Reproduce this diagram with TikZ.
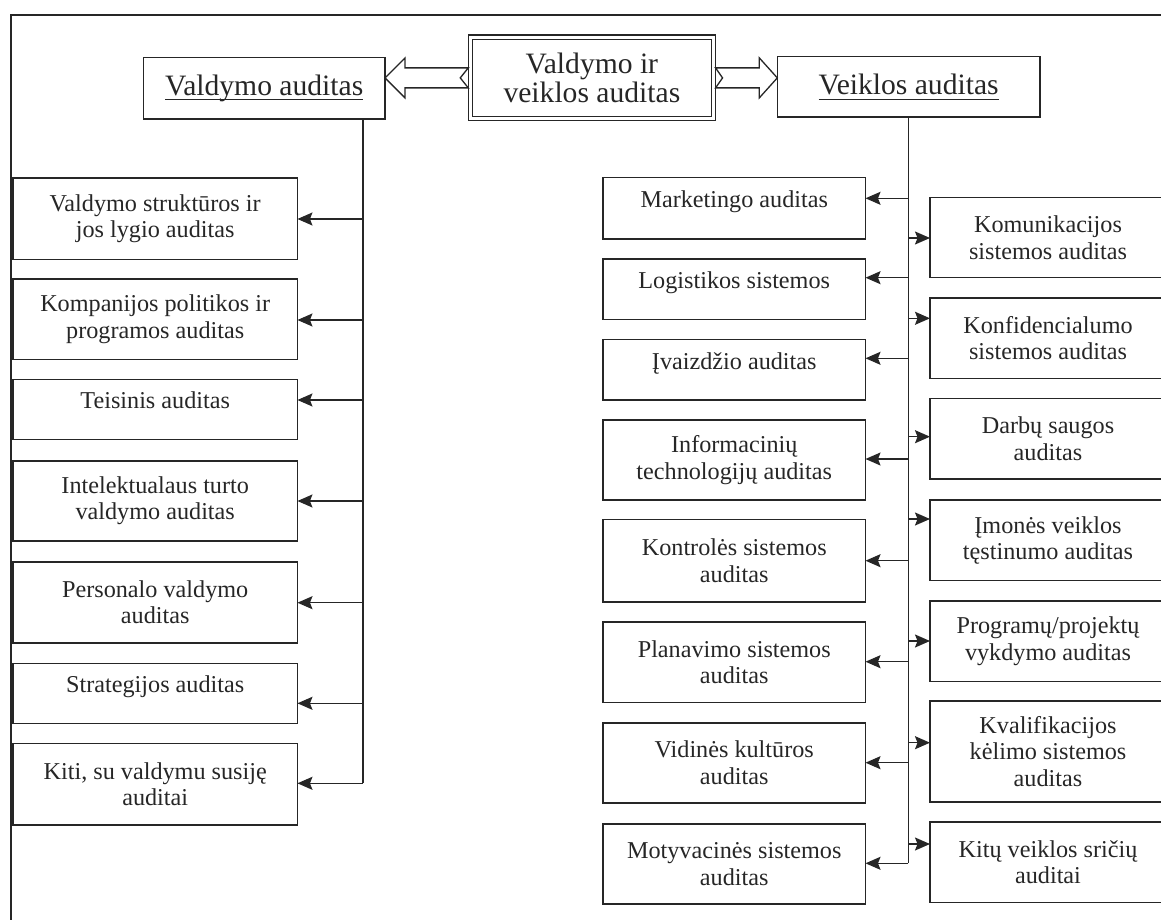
\documentclass[tikz,border=0pt]{standalone}
\usepackage{fontspec}
\setmainfont{Liberation Serif}
\usetikzlibrary{arrows.meta,calc}
\definecolor{ink}{RGB}{38,38,38}
\newcommand\titlefont{\fontsize{29.6}{29.5}\selectfont}
\newcommand\boxfont{\fontsize{24.2}{26.5}\selectfont}
% underline set at a fixed depth below the baseline
\newcommand\headline[1]{\setbox0\hbox{#1}\rlap{\rule[-5pt]{\wd0}{1.2pt}}\box0}
\tikzset{
  box/.style={draw=ink, line width=1.6pt, inner sep=0pt, outer sep=0pt,
    align=center, font=\boxfont, text=ink},
  titlebox/.style={box, font=\titlefont},
  upper/.style={text height=17pt, text depth=18pt},
  conn/.style={draw=ink, line width=1.5pt,
    -{Stealth[length=15pt,width=13pt,inset=2.5pt]}},
  trunk/.style={draw=ink, line width=1.5pt},
  hollow/.style={draw=ink, line width=1.3pt, line join=miter},
  frame/.style={draw=ink, line width=2pt},
}
\begin{document}
\begin{tikzpicture}[x=1pt, y=-1pt]
\useasboundingbox (0,0) rectangle (1161,920);
\clip (0,0) rectangle (1161,920);

% outer frame (runs off the page on the right and below)
\draw[frame] (10.5,950) -- (10.5,15) -- (1190,15);

% top row
\node[titlebox, minimum width=241.7pt, minimum height=61.7pt] (vald) at (264.2,88.2)
  {\headline{Valdymo auditas}};
\node[titlebox, double, double distance=3pt, line width=1.3pt,
  minimum width=242.9pt, minimum height=81.6pt] (cent) at (591.9,77.9)
  {Valdymo ir\\veiklos auditas};
\node[titlebox, minimum width=262.7pt, minimum height=60.6pt] (veik) at (908.65,87)
  {\headline{Veiklos auditas}};

% hollow block arrows from the central box
\coordinate (ltip) at (vald.east |- cent.west);
\coordinate (ltail) at ($(cent.west)+(-2.2,0)$);
\draw[hollow] (ltip) -- ($(ltip)+(20,-20)$) -- ($(ltip)+(20,-10)$)
  -- ($(ltail)+(0,-10)$) -- ($(ltail)+(-8,0)$) -- ($(ltail)+(0,10)$)
  -- ($(ltip)+(20,10)$) -- ($(ltip)+(20,20)$) -- cycle;
\coordinate (rtip) at (veik.west |- cent.east);
\coordinate (rtail) at ($(cent.east)+(2.2,0)$);
\draw[hollow] (rtip) -- ($(rtip)+(-18,-20)$) -- ($(rtip)+(-18,-10)$)
  -- ($(rtail)+(0,-10)$) -- ($(rtail)+(7,0)$) -- ($(rtail)+(0,10)$)
  -- ($(rtip)+(-18,10)$) -- ($(rtip)+(-18,20)$) -- cycle;

% left column: management audits
\node[box, minimum width=284.5pt, minimum height=81pt] (l1) at (155.2,218.8)
  {Valdymo struktūros ir\\jos lygio auditas};
\node[box, minimum width=284.5pt, minimum height=80.3pt] (l2) at (155.2,319.2)
  {Kompanijos politikos ir\\programos auditas};
\node[box, upper, minimum width=284.5pt, minimum height=60pt] (l3) at (155.2,409.3)
  {Teisinis auditas};
\node[box, minimum width=284.5pt, minimum height=80pt] (l4) at (155.2,500.7)
  {Intelektualaus turto\\valdymo auditas};
\node[box, minimum width=284.5pt, minimum height=81pt] (l5) at (155.2,602.2)
  {Personalo valdymo\\auditas};
\node[box, upper, minimum width=284.5pt, minimum height=60pt] (l6) at (155.2,693.3)
  {Strategijos auditas};
\node[box, minimum width=284.5pt, minimum height=81.7pt] (l7) at (155.2,784.2)
  {Kiti, su valdymu susiję\\auditai};

% middle column: activity audits
\node[box, upper, minimum width=262.5pt, minimum height=61.5pt] (m1) at (734.25,208.25)
  {Marketingo auditas};
\node[box, upper, minimum width=262.5pt, minimum height=60.3pt] (m2) at (734.25,289.15)
  {Logistikos sistemos};
\node[box, upper, minimum width=262.5pt, minimum height=60.7pt] (m3) at (734.25,369.65)
  {Įvaizdžio auditas};
\node[box, minimum width=262.5pt, minimum height=80pt] (m4) at (734.25,460)
  {Informacinių\\technologijų auditas};
\node[box, minimum width=262.5pt, minimum height=82.4pt] (m5) at (734.25,560.5)
  {Kontrolės sistemos\\auditas};
\node[box, minimum width=262.5pt, minimum height=80.6pt] (m6) at (734.25,662)
  {Planavimo sistemos\\auditas};
\node[box, minimum width=262.5pt, minimum height=80pt] (m7) at (734.25,762.7)
  {Vidinės kultūros\\auditas};
\node[box, minimum width=262.5pt, minimum height=80pt] (m8) at (734.25,864)
  {Motyvacinės sistemos\\auditas};

% right column: activity audits
\node[box, minimum width=236pt, minimum height=80pt] (r1) at (1048,237.5)
  {Komunikacijos\\sistemos auditas};
\node[box, minimum width=236pt, minimum height=80.5pt] (r2) at (1048,338.25)
  {Konfidencialumo\\sistemos auditas};
\node[box, minimum width=236pt, minimum height=80.5pt] (r3) at (1048,438.75)
  {Darbų saugos\\auditas};
\node[box, minimum width=236pt, minimum height=80.5pt] (r4) at (1048,540.25)
  {Įmonės veiklos\\tęstinumo auditas};
\node[box, minimum width=236pt, minimum height=80.5pt] (r5) at (1048,641.25)
  {Programų/projektų\\vykdymo auditas};
\node[box, minimum width=236pt, minimum height=101pt] (r6) at (1048,751.5)
  {Kvalifikacijos\\kėlimo sistemos\\auditas};
\node[box, minimum width=236pt, minimum height=80.5pt] (r7) at (1048,862.25)
  {Kitų veiklos sričių\\auditai};

% left trunk and its branches
\coordinate (lx) at (363,0);
\coordinate (la1) at (363,219);
\coordinate (la2) at (363,320);
\coordinate (la3) at (363,400);
\coordinate (la4) at (363,501);
\coordinate (la5) at (363,602.7);
\coordinate (la6) at (363,703.3);
\coordinate (la7) at (363,783.3);
\draw[trunk] (vald.south -| lx) -- (la7);
\draw[conn] (la1) -- (la1 -| l1.east);
\draw[conn] (la2) -- (la2 -| l2.east);
\draw[conn] (la3) -- (la3 -| l3.east);
\draw[conn] (la4) -- (la4 -| l4.east);
\draw[conn] (la5) -- (la5 -| l5.east);
\draw[conn] (la6) -- (la6 -| l6.east);
\draw[conn] (la7) -- (la7 -| l7.east);

% right trunk and its branches
\coordinate (ma1) at (908.3,198.3);
\coordinate (ma2) at (908.3,277.7);
\coordinate (ma3) at (908.3,358.3);
\coordinate (ma4) at (908.3,459);
\coordinate (ma5) at (908.3,560.7);
\coordinate (ma6) at (908.3,661.7);
\coordinate (ma7) at (908.3,762.7);
\coordinate (ma8) at (908.3,863.3);
\coordinate (ra1) at (908.3,238);
\coordinate (ra2) at (908.3,318.3);
\coordinate (ra3) at (908.3,436.7);
\coordinate (ra4) at (908.3,519);
\coordinate (ra5) at (908.3,641);
\coordinate (ra6) at (908.3,742.7);
\coordinate (ra7) at (908.3,844);
\draw[trunk] (veik.south -| ma8) -- (ma8);
\draw[conn] (ma1) -- (ma1 -| m1.east);
\draw[conn] (ma2) -- (ma2 -| m2.east);
\draw[conn] (ma3) -- (ma3 -| m3.east);
\draw[conn] (ma4) -- (ma4 -| m4.east);
\draw[conn] (ma5) -- (ma5 -| m5.east);
\draw[conn] (ma6) -- (ma6 -| m6.east);
\draw[conn] (ma7) -- (ma7 -| m7.east);
\draw[conn] (ma8) -- (ma8 -| m8.east);
\draw[conn] (ra1) -- (ra1 -| r1.west);
\draw[conn] (ra2) -- (ra2 -| r2.west);
\draw[conn] (ra3) -- (ra3 -| r3.west);
\draw[conn] (ra4) -- (ra4 -| r4.west);
\draw[conn] (ra5) -- (ra5 -| r5.west);
\draw[conn] (ra6) -- (ra6 -| r6.west);
\draw[conn] (ra7) -- (ra7 -| r7.west);
\end{tikzpicture}
\end{document}
